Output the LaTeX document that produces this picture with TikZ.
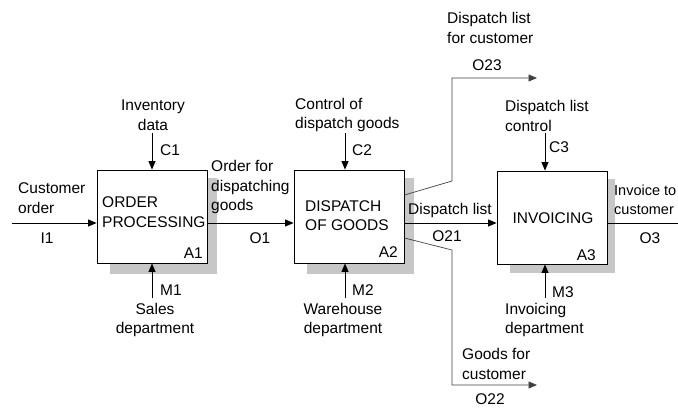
\documentclass[tikz,border=0pt]{standalone}
\usepackage{fontspec}
\setmainfont{Liberation Sans}
\usetikzlibrary{arrows.meta,backgrounds}

\tikzset{
  fn/.style={draw, line width=0.9pt, fill=white, minimum width=110pt, minimum height=93pt, inner sep=0pt},
  shade/.style={fill=black!22},
  flow/.style={line width=0.9pt, -{Triangle[length=8.5pt,width=7pt]}},
  branch/.style={line width=0.7pt, draw=black!75, -{Triangle[length=8.5pt,width=7pt]}},
  txt/.style={inner sep=0pt, align=left, font=\fontsize{15.5}{19.5}\selectfont},
  mid/.style={txt, align=center}
}

\begin{document}
\begin{tikzpicture}[x=1pt,y=-1pt]
\useasboundingbox (0,0) rectangle (678,410);

\node[fn] (a1) at (152,216.5) {};
\node[fn] (a2) at (349,216.5) {};
\node[fn] (a3) at (552,217.5) {};
\begin{scope}[on background layer]
\fill[shade] ([xshift=13pt,yshift=-8pt]a1.north west) rectangle ([xshift=10pt,yshift=-11pt]a1.south east);
\fill[shade] ([xshift=13pt,yshift=-8pt]a2.north west) rectangle ([xshift=10pt,yshift=-11pt]a2.south east);
\fill[shade] ([xshift=13pt,yshift=-8pt]a3.north west) rectangle ([xshift=8pt,yshift=-9pt]a3.south east);
\end{scope}

\node[txt, anchor=west] (a1name) at (102,212) {ORDER\\PROCESSING};
\node[txt, anchor=east] (a1num) at (203,253) {A1};
\node[txt, anchor=west] (a2name) at (305,215.5) {DISPATCH\\OF GOODS};
\node[txt, anchor=east] (a2num) at (398,252) {A2};
\node[txt] (a3name) at (553,218) {INVOICING};
\node[txt, anchor=east] (a3num) at (596,255) {A3};

\node[txt, anchor=west] (custorder) at (18,198) {Customer\\order};
\node[txt] (i1) at (47,238) {I1};
\node[mid] (invdata) at (153,115) {Inventory\\data};
\node[txt, anchor=west] (c1lbl) at (160,150) {C1};
\node[txt, anchor=west] (o1lbl) at (211,187) {Order for\\dispatching\\goods};
\node[txt] (o1) at (260,238) {O1};
\node[txt, anchor=west] (m1lbl) at (160,290) {M1};
\node[mid] (sales) at (155,320) {Sales\\department};

\node[txt, anchor=west] (ctrl) at (295,115) {Control of\\dispatch goods};
\node[txt, anchor=west] (c2lbl) at (352,150) {C2};
\node[txt, anchor=west] (m2lbl) at (352,290) {M2};
\node[mid] (wareh) at (343,320) {Warehouse\\department};

\node[txt, anchor=west] (dlist) at (408,210) {Dispatch list};
\node[txt] (o21) at (447,236) {O21};
\node[txt, anchor=west] (dlcust) at (447,28) {Dispatch list\\for customer};
\node[txt] (o23) at (487,65) {O23};
\node[txt, anchor=west] (gcust) at (462,364) {Goods for\\customer};
\node[txt] (o22) at (490,399) {O22};

\node[txt, anchor=west] (dlctrl) at (505,116) {Dispatch list\\control};
\node[txt, anchor=west] (c3lbl) at (549,147) {C3};
\node[txt, anchor=west] (m3lbl) at (552,292) {M3};
\node[txt, anchor=west] (invdep) at (505,320) {Invoicing\\department};
\node[txt, anchor=west, font=\fontsize{14.5}{19}\selectfont] (invcust) at (614,200) {Invoice to\\customer};
\node[txt] (o3) at (650,238) {O3};

\coordinate (lane) at (0,223);
\coordinate (i1start) at (12,223);
\coordinate (c1) at (152,133);
\coordinate (m1) at (152,298);
\coordinate (c2) at (345,133);
\coordinate (m2) at (345,298);
\coordinate (c3) at (545,133);
\coordinate (m3) at (545,298);
\coordinate (o3end) at (678,223);
\coordinate (o23bend) at (452,181);
\coordinate (o23up) at (452,78);
\coordinate (o23end) at (537,78);
\coordinate (o22bend) at (452,250);
\coordinate (o22down) at (452,385);
\coordinate (o22end) at (537,385);

\draw[flow] (i1start) -- (i1start -| a1.west);
\draw[flow] (a1.east |- lane) -- (a2.west |- lane);
\draw[flow] (a2.east |- lane) -- (a3.west |- lane);
\draw[line width=0.9pt] (a3.east |- lane) -- (o3end);
\draw[flow] (c1) -- (c1 |- a1.north);
\draw[flow] (m1) -- (m1 |- a1.south);
\draw[flow] (c2) -- (c2 |- a2.north);
\draw[flow] (m2) -- (m2 |- a2.south);
\draw[flow] (c3) -- (c3 |- a3.north);
\draw[flow] (m3) -- (m3 |- a3.south);
\draw[branch] ([yshift=21.5pt]a2.east) -- (o23bend) -- (o23up) -- (o23end);
\draw[branch] ([yshift=-21.5pt]a2.east) -- (o22bend) -- (o22down) -- (o22end);
\end{tikzpicture}
\end{document}
